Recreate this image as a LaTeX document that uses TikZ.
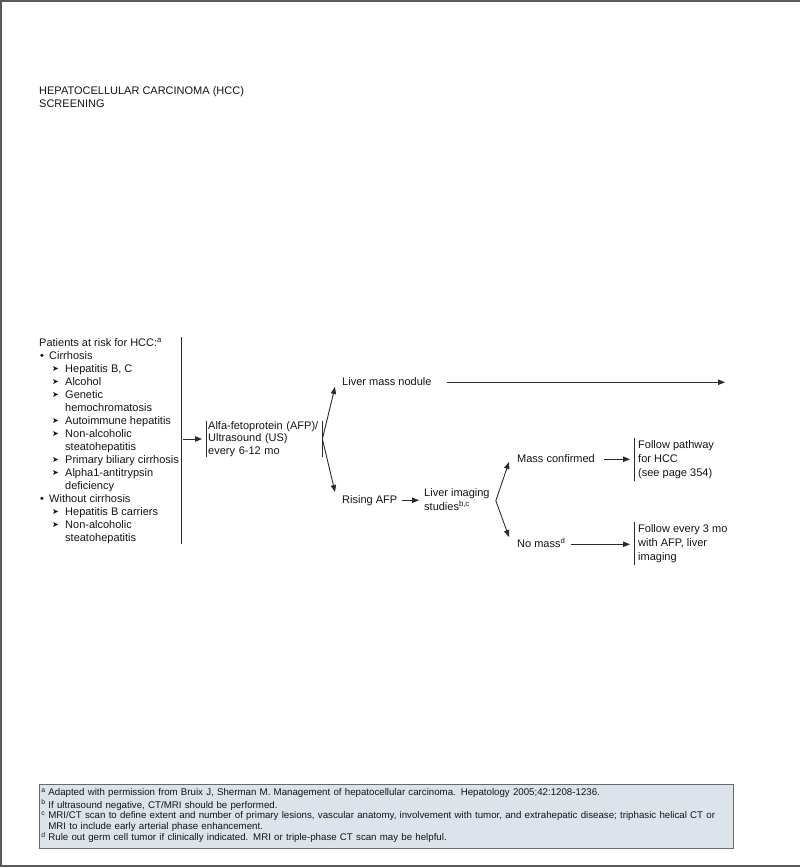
\documentclass[tikz,border=0pt]{standalone}
\usepackage{fontspec}
\setmainfont{Liberation Sans}
\newfontfamily\symfont{DejaVu Sans}
\usetikzlibrary{arrows.meta,calc}
\definecolor{ink}{HTML}{151515}
\definecolor{linec}{HTML}{2A2A2A}
\definecolor{framec}{HTML}{5A5A5A}
\definecolor{notefill}{HTML}{DCE3EA}
\definecolor{noteline}{HTML}{6A6A6A}
\newcommand{\abul}{{\symfont\fontsize{8}{8}\selectfont\raisebox{0.3pt}{➤}}}
\newcommand{\sups}[1]{\textsuperscript{#1}}
\tikzset{
  txt/.style={inner sep=0pt, text=ink, font=\fontsize{11}{13}\selectfont, align=left},
  lbl/.style={txt, anchor=base west, text height=8pt, text depth=2.5pt},
  arr/.style={draw=linec, line width=0.9pt, -{Triangle[length=7pt,width=5.4pt]}},
  barline/.style={draw=linec, line width=0.9pt},
  notebox/.style={draw=noteline, fill=notefill, line width=0.8pt, anchor=north west,
    inner xsep=2pt, inner ysep=4.2pt, text width=690pt, align=left, text=ink,
    font=\fontsize{9.7}{10.4}\selectfont}
}
\begin{document}
\begin{tikzpicture}[x=1pt,y=-1pt]
\useasboundingbox (0,0) rectangle (800,868);
\fill[white] (0,0) rectangle (800,868);
\draw[draw=framec,line width=1.6pt] (800,0.8) -- (1.2,0.8) -- (1.2,866.2) -- (800,866.2);

% title
\node[txt, anchor=north west] (title) at (39,84.9) {\strut HEPATOCELLULAR CARCINOMA (HCC)\\SCREENING};

% risk list
\node[txt, anchor=north west] (risk) at (39,336.9) {\strut Patients at risk for HCC:\sups{a}\\
\hspace*{1pt}\makebox[9pt][l]{•}Cirrhosis\\
\hspace*{13pt}\makebox[13pt][l]{\abul}Hepatitis B, C\\
\hspace*{13pt}\makebox[13pt][l]{\abul}Alcohol\\
\hspace*{13pt}\makebox[13pt][l]{\abul}Genetic\\
\hspace*{26pt}hemochromatosis\\
\hspace*{13pt}\makebox[13pt][l]{\abul}Autoimmune hepatitis\\
\hspace*{13pt}\makebox[13pt][l]{\abul}Non-alcoholic\\
\hspace*{26pt}steatohepatitis\\
\hspace*{13pt}\makebox[13pt][l]{\abul}Primary biliary cirrhosis\\
\hspace*{13pt}\makebox[13pt][l]{\abul}Alpha1-antitrypsin\\
\hspace*{26pt}deficiency\\
\hspace*{1pt}\makebox[9pt][l]{•}Without cirrhosis\\
\hspace*{13pt}\makebox[13pt][l]{\abul}Hepatitis B carriers\\
\hspace*{13pt}\makebox[13pt][l]{\abul}Non-alcoholic\\
\hspace*{26pt}steatohepatitis};
\draw[barline] ([xshift=2pt]risk.north east) -- ([xshift=2pt]risk.south east);

% AFP box
\node[txt, anchor=west, text width=112pt, inner xsep=2pt, font=\fontsize{11}{12.5}\selectfont, minimum height=36pt] (afp) at (206,439) {Alfa-fetoprotein (AFP)/\\Ultrasound (US)\\every 6-12 mo};
\draw[barline] (afp.north west) -- (afp.south west);
\draw[barline] (afp.north east) -- (afp.south east);
\draw[arr, shorten >=4pt] ($(risk.east |- afp.west)+(4pt,0)$) -- (afp.west);

% first fork
\node[lbl] (mass) at (342,385) {Liver mass nodule};
\node[lbl] (rising) at (342,503) {Rising AFP};
\draw[arr] (afp.east) -- ([xshift=-7pt,yshift=-4.75pt]mass.west);
\draw[arr] (afp.east) -- ([xshift=-7pt,yshift=8.25pt]rising.west);
\coordinate (massout) at (725,382.25);
\draw[arr] ([xshift=15pt]mass.east) -- (massout);

% imaging
\node[txt, anchor=north west, font=\fontsize{11}{13.5}\selectfont] (imaging) at (424,486.5) {\strut Liver imaging\\studies\sups{b,c}\strut};
\draw[arr, shorten <=5pt, shorten >=5pt] (rising.east) -- (rising.east -| imaging.west);

% second fork
\node[lbl] (confirmed) at (517,462) {Mass confirmed};
\node[lbl] (nomass) at (517,547) {No mass\sups{d}};
\draw[arr] ([xshift=6pt]imaging.east) -- ([xshift=-8pt,yshift=-2.75pt]confirmed.west);
\draw[arr] ([xshift=6pt]imaging.east) -- ([xshift=-8pt,yshift=7.25pt]nomass.west);

% outcomes
\node[txt, anchor=north west, inner xsep=4pt, font=\fontsize{11}{14}\selectfont] (follow1) at (634,438.2) {\strut Follow pathway\\for HCC\\(see page 354)\strut};
\draw[barline] (follow1.north west) -- (follow1.south west);
\draw[arr, shorten <=9pt, shorten >=4pt] (confirmed.east) -- (confirmed.east -| follow1.west);

\node[txt, anchor=north west, inner xsep=4pt, font=\fontsize{11}{14}\selectfont] (follow2) at (634,522.2) {\strut Follow every 3 mo\\with AFP, liver\\imaging\strut};
\draw[barline] (follow2.north west) -- (follow2.south west);
\draw[arr, shorten <=5pt, shorten >=4pt] (nomass.east) -- (nomass.east -| follow2.west);

% footnotes
\node[notebox] (notes) at (39,784) {\strut\makebox[7pt][l]{\sups{a}}Adapted with permission from Bruix J, Sherman M. Management of hepatocellular carcinoma. Hepatology 2005;42:1208-1236.\\
\makebox[7pt][l]{\sups{b}}If ultrasound negative, CT/MRI should be performed.\\
\makebox[7pt][l]{\sups{c}}MRI/CT scan to define extent and number of primary lesions, vascular anatomy, involvement with tumor, and extrahepatic disease; triphasic helical CT or\\
\hspace*{7pt}MRI to include early arterial phase enhancement.\\
\makebox[7pt][l]{\sups{d}}Rule out germ cell tumor if clinically indicated. MRI or triple-phase CT scan may be helpful.\strut};
\end{tikzpicture}
\end{document}
